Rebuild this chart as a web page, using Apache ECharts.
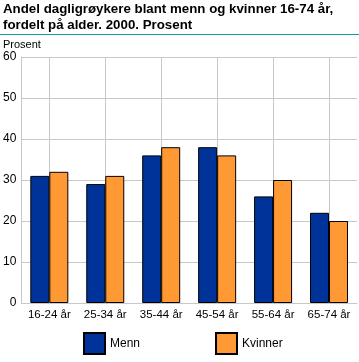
<!DOCTYPE html>
<html><head><meta charset="utf-8">
<script src="https://cdn.jsdelivr.net/npm/echarts@6/dist/echarts.min.js"></script>
<style>html,body{margin:0;padding:0;background:#fff}#c{width:359px;height:362px}</style>
</head><body><div id="c"></div>
<script>
const categories = ['16-24 år','25-34 år','35-44 år','45-54 år','55-64 år','65-74 år'];
const menn = [31, 29, 36, 38, 26, 22];
const kvinner = [32, 31, 38, 36, 30, 20];
const yTicks = {min: 0, max: 60, interval: 10};
const titleText = 'Andel dagligrøykere blant menn og kvinner 16-74 år,\nfordelt på alder. 2000. Prosent';
const unitLabel = 'Prosent';

const FONT = 'Liberation Sans, Arial, sans-serif';
const chart = echarts.init(document.getElementById('c'), null, {renderer: 'canvas'});
chart.setOption({
  animation: false,
  backgroundColor: '#fff',
  textStyle: {fontFamily: FONT},
  title: {
    text: titleText, left: 3, top: 1, padding: 0,
    textStyle: {fontSize: 13.3, fontWeight: 'bold', color: '#000', lineHeight: 16, fontFamily: FONT}
  },
  graphic: [
    {type: 'line', shape: {x1: 0, y1: 34.5, x2: 359, y2: 34.5}, style: {stroke: '#139a9a', lineWidth: 1}},
    {type: 'text', left: 3, top: 39, style: {text: unitLabel, fontSize: 11, fill: '#000', fontFamily: FONT}}
  ],
  legend: [
    {data: ['Menn'], left: 83, top: 332, padding: 0, itemWidth: 21, itemHeight: 21, itemGap: 8, icon: 'rect',
     textStyle: {fontSize: 12, color: '#000', fontFamily: FONT}},
    {data: ['Kvinner'], left: 215, top: 332, padding: 0, itemWidth: 21, itemHeight: 21, itemGap: 8, icon: 'rect',
     textStyle: {fontSize: 12, color: '#000', fontFamily: FONT}}
  ],
  grid: {left: 19, right: 2, top: 57, bottom: 59, containLabel: false},
  xAxis: {
    type: 'category', data: categories,
    axisLine: {show: true, lineStyle: {color: '#c8c8c8', width: 1}},
    axisTick: {show: false},
    axisLabel: {color: '#000', fontSize: 11.5, margin: 6, interval: 0, fontFamily: FONT},
    splitLine: {show: true, alignWithLabel: true, lineStyle: {color: '#c8c8c8', width: 1}}
  },
  yAxis: {
    type: 'value', min: yTicks.min, max: yTicks.max, interval: yTicks.interval,
    axisLine: {show: true, lineStyle: {color: '#c8c8c8', width: 1}},
    axisTick: {show: false},
    axisLabel: {color: '#000', fontSize: 12, margin: 5, fontFamily: FONT},
    splitLine: {show: true, lineStyle: {color: '#c8c8c8', width: 1}}
  },
  series: [
    {name: 'Menn', type: 'bar', data: menn, barWidth: 19, barGap: '0%',
     itemStyle: {color: '#003399', borderColor: '#000', borderWidth: 1}},
    {name: 'Kvinner', type: 'bar', data: kvinner, barWidth: 19, barGap: '0%',
     itemStyle: {color: '#ff9933', borderColor: '#000', borderWidth: 1}}
  ]
});
</script></body></html>
